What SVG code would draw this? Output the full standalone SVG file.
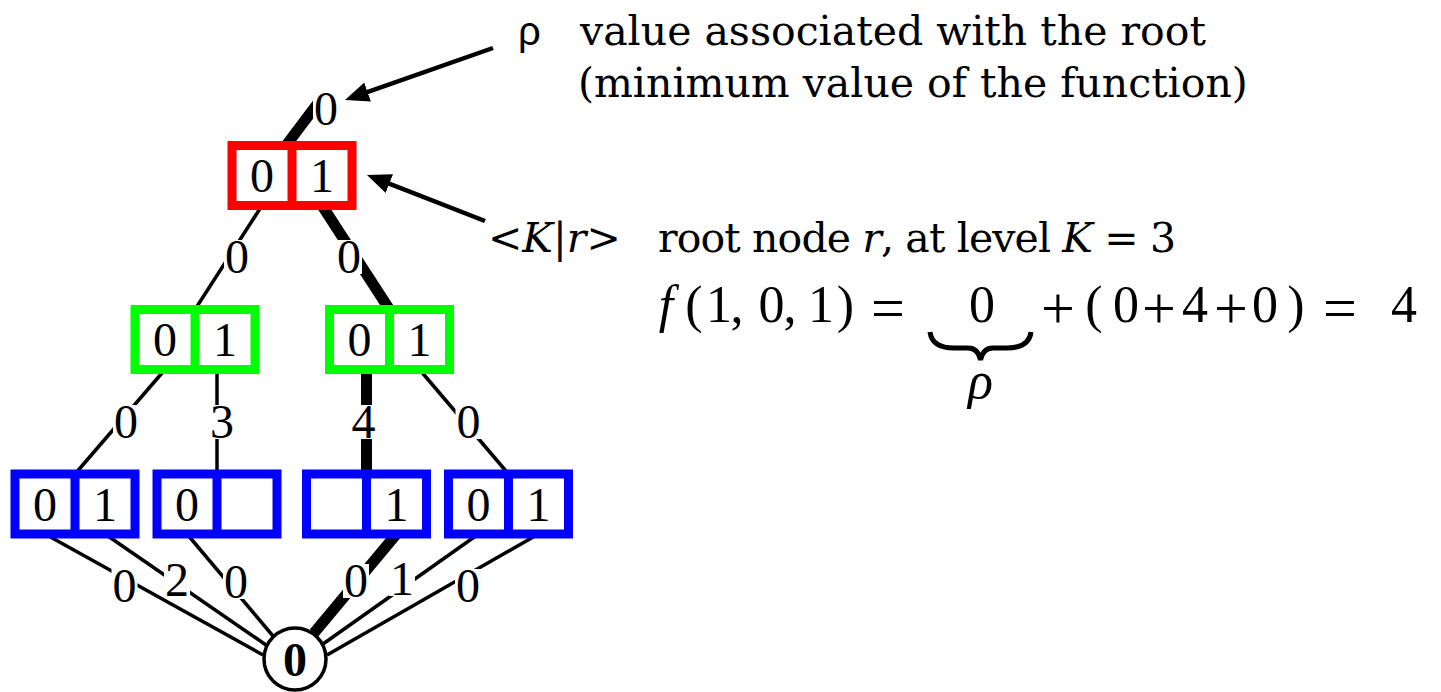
<svg xmlns="http://www.w3.org/2000/svg" width="1441" height="692" viewBox="0 0 1441 692">
<style>
.cell{fill:#fff;stroke-width:9}
.red{stroke:#ff0000}
.green{stroke:#00ff00}
.blue{stroke:#0000ff}
.d{font-family:"Liberation Serif",serif;font-size:48px;text-anchor:middle;fill:#000}
.e{stroke:#000;stroke-width:3.5;fill:none}
.t{stroke:#000;stroke-width:11;fill:none}
.lb{fill:#fff}
.txt{font-family:"DejaVu Serif",serif;font-size:41px;fill:#000}
.m{font-family:"Liberation Serif",serif;font-size:52px;text-anchor:middle;fill:#000}
.op{font-family:"Liberation Serif",serif;font-size:60px;text-anchor:middle;fill:#000}
.arr{stroke:#000;stroke-width:4.5;fill:none;marker-end:url(#ah)}
</style>
<defs>
<marker id="ah" markerUnits="userSpaceOnUse" markerWidth="26" markerHeight="22" refX="14" refY="10" orient="auto" viewBox="0 0 26 22">
<path d="M0,0 L24,10 L0,20 z" fill="#000"/>
</marker>
</defs>
<rect width="1441" height="692" fill="#fff"/>

<g id="connectors">
<line class="t" x1="318" y1="103" x2="286" y2="145.5"/>
<line class="e" x1="262" y1="205.5" x2="195" y2="309.5"/>
<line class="t" x1="322" y1="205.5" x2="389.5" y2="309.5"/>
<line class="e" x1="165" y1="369.5" x2="75" y2="474"/>
<line class="e" x1="217" y1="369.5" x2="217" y2="474"/>
<line class="t" x1="366.5" y1="369.5" x2="366.5" y2="474"/>
<line class="e" x1="419.5" y1="369.5" x2="508.5" y2="474"/>
<line class="e" x1="45" y1="534" x2="263" y2="655"/>
<line class="e" x1="105" y1="534" x2="266" y2="645"/>
<line class="e" x1="187" y1="534" x2="273" y2="636"/>
<line class="t" x1="396.5" y1="534" x2="314" y2="633"/>
<line class="e" x1="478.5" y1="534" x2="323" y2="644"/>
<line class="e" x1="538.5" y1="534" x2="327" y2="655"/>
<g id="edge-labels">
<rect class="lb" x="313" y="92" width="26" height="34"/><text class="d" x="326" y="125">0</text>
<rect class="lb" x="224" y="240" width="26" height="34"/><text class="d" x="237" y="273">0</text>
<rect class="lb" x="336" y="240" width="26" height="34"/><text class="d" x="349" y="273">0</text>
<rect class="lb" x="113" y="405" width="26" height="34"/><text class="d" x="126" y="438">0</text>
<rect class="lb" x="209" y="405" width="26" height="34"/><text class="d" x="222" y="438">3</text>
<rect class="lb" x="350.5" y="405" width="26" height="34"/><text class="d" x="363.5" y="438">4</text>
<rect class="lb" x="455.5" y="405" width="26" height="34"/><text class="d" x="468.5" y="438">0</text>
<rect class="lb" x="111.5" y="569" width="26" height="34"/><text class="d" x="124.5" y="602">0</text>
<rect class="lb" x="164" y="563" width="26" height="34"/><text class="d" x="177" y="596">2</text>
<rect class="lb" x="223" y="565" width="26" height="34"/><text class="d" x="236" y="598">0</text>
<rect class="lb" x="343" y="564" width="26" height="34"/><text class="d" x="356" y="597">0</text>
<rect class="lb" x="389" y="562" width="26" height="34"/><text class="d" x="402" y="595">1</text>
<rect class="lb" x="455" y="569" width="26" height="34"/><text class="d" x="468" y="602">0</text>
</g>
<line class="arr" x1="493" y1="48" x2="354.4" y2="96.7"/>
<line class="arr" x1="485" y1="221" x2="376.3" y2="178.6"/>
</g>

<g id="node-red">
<rect class="cell red" x="232" y="145.5" width="120" height="60"/>
<line class="red" stroke-width="9" x1="292" y1="145.5" x2="292" y2="205.5"/>
<text class="d" x="262" y="192">0</text><text class="d" x="322" y="192">1</text>
</g>
<g id="node-green-left">
<rect class="cell green" x="135" y="309.5" width="120" height="60"/>
<line class="green" stroke-width="9" x1="195" y1="309.5" x2="195" y2="369.5"/>
<text class="d" x="165" y="356">0</text><text class="d" x="225" y="356">1</text>
</g>
<g id="node-green-right">
<rect class="cell green" x="329.5" y="309.5" width="120" height="60"/>
<line class="green" stroke-width="9" x1="389.5" y1="309.5" x2="389.5" y2="369.5"/>
<text class="d" x="359.5" y="356">0</text><text class="d" x="419.5" y="356">1</text>
</g>
<g id="node-blue-1">
<rect class="cell blue" x="15" y="474" width="120" height="60"/>
<line class="blue" stroke-width="9" x1="75" y1="474" x2="75" y2="534"/>
<text class="d" x="45" y="520.5">0</text><text class="d" x="105" y="520.5">1</text>
</g>
<g id="node-blue-2">
<rect class="cell blue" x="157" y="474" width="120" height="60"/>
<line class="blue" stroke-width="9" x1="217" y1="474" x2="217" y2="534"/>
<text class="d" x="187" y="520.5">0</text>
</g>
<g id="node-blue-3">
<rect class="cell blue" x="306.5" y="474" width="120" height="60"/>
<line class="blue" stroke-width="9" x1="366.5" y1="474" x2="366.5" y2="534"/>
<text class="d" x="396.5" y="520.5">1</text>
</g>
<g id="node-blue-4">
<rect class="cell blue" x="448.5" y="474" width="120" height="60"/>
<line class="blue" stroke-width="9" x1="508.5" y1="474" x2="508.5" y2="534"/>
<text class="d" x="478.5" y="520.5">0</text><text class="d" x="538.5" y="520.5">1</text>
</g>
<g id="node-terminal">
<circle cx="295" cy="659" r="31" fill="#fff" stroke="#000" stroke-width="3.5"/>
<text class="d" x="295" y="676" font-weight="bold" font-size="48">0</text>
</g>

<g id="annotations">
<text x="518" y="45" font-family="Liberation Sans, sans-serif" font-size="40">ρ</text>
<text class="txt" x="580" y="45">value associated with the root</text>
<text class="txt" x="578" y="97">(minimum value of the function)</text>
<text class="txt" x="488" y="252">&lt;<tspan font-style="italic">K</tspan>|<tspan font-style="italic">r</tspan>&gt;</text>
<text class="txt" x="658" y="252" textLength="518">root node <tspan font-style="italic">r</tspan>, at level <tspan font-style="italic">K</tspan> = 3</text>
</g>

<g id="formula">
<text class="m" x="666" y="322" font-style="italic">f</text>
<text class="m" x="694" y="322">(</text>
<text class="m" x="719" y="322" fill="#ff0000">1</text>
<text class="m" x="737" y="322">,</text>
<text class="m" x="771.5" y="322" fill="#008000">0</text>
<text class="m" x="790" y="322">,</text>
<text class="m" x="821" y="322" fill="#0000ff">1</text>
<text class="m" x="845.5" y="322">)</text>
<text class="op" x="888" y="328">=</text>
<text class="m" x="982" y="322">0</text>
<path d="M930,332 Q932,348 954,348 L968,348 Q978,348 980.5,360 Q983,348 993,348 L1007,348 Q1029,348 1031,332" fill="none" stroke="#000" stroke-width="5"/>
<text class="m" x="980.5" y="398" font-size="36" font-style="italic">ρ</text>
<text class="op" x="1058" y="328">+</text>
<text class="m" x="1094" y="322">(</text>
<text class="m" x="1126" y="322">0</text>
<text class="op" x="1159" y="328">+</text>
<text class="m" x="1195" y="322">4</text>
<text class="op" x="1231" y="328">+</text>
<text class="m" x="1265" y="322">0</text>
<text class="m" x="1296" y="322">)</text>
<text class="op" x="1340" y="328">=</text>
<text class="m" x="1404" y="322">4</text>
</g>
</svg>
